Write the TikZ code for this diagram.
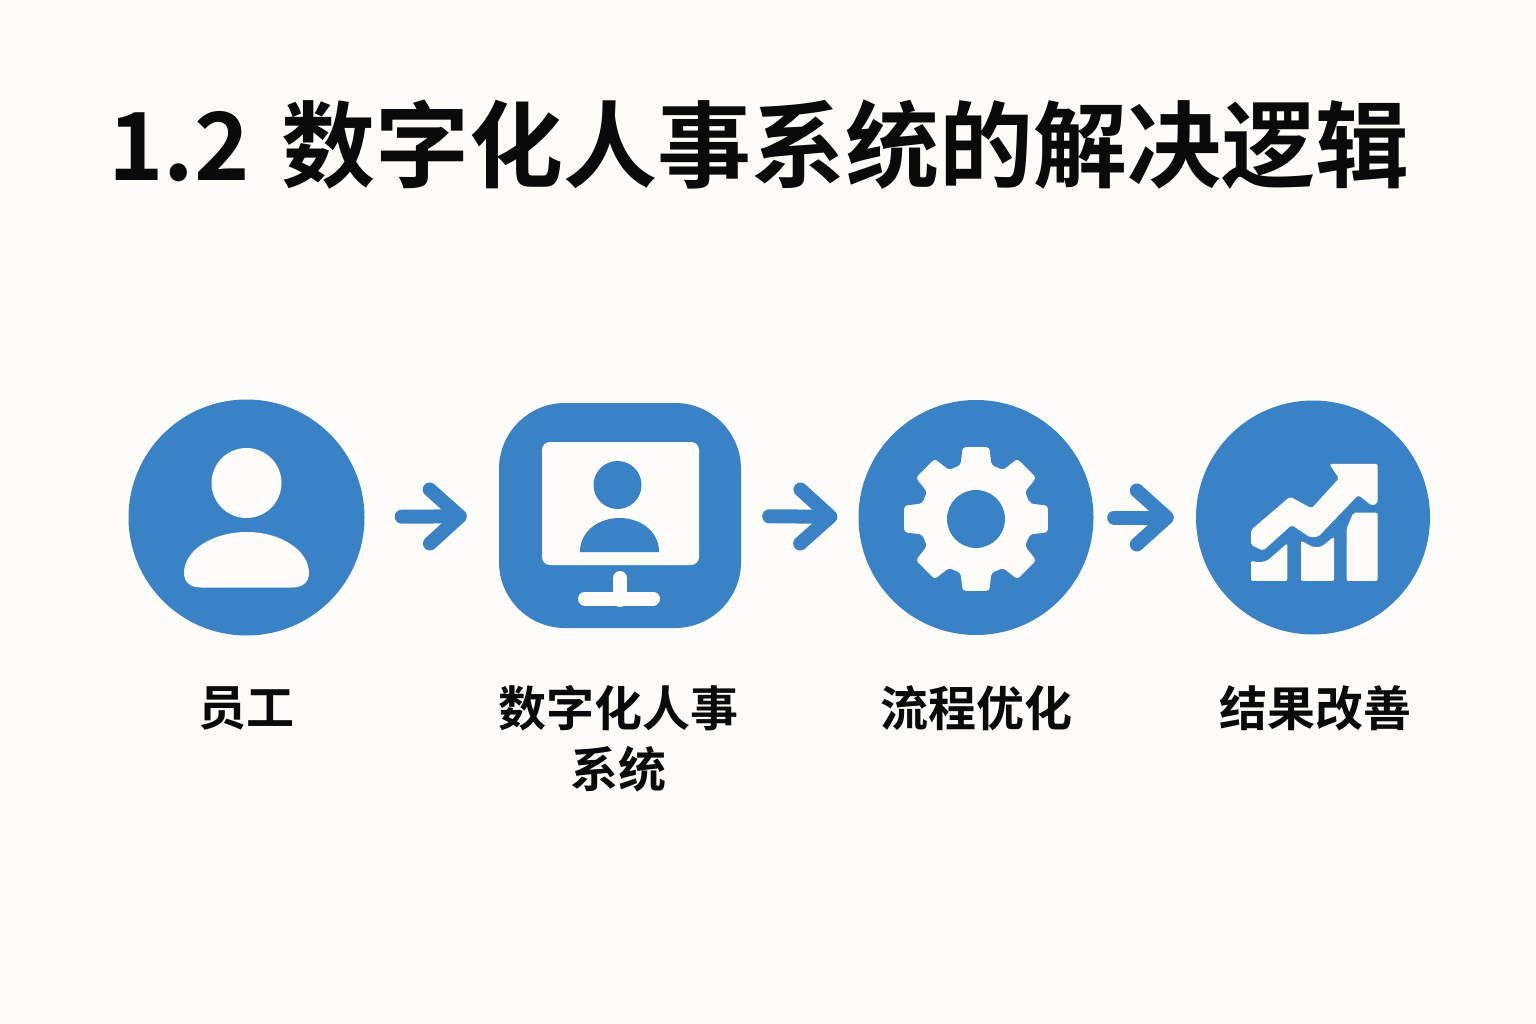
\documentclass[tikz,border=0pt]{standalone}
\usepackage{fontspec}
\setmainfont{Noto Sans CJK SC}[BoldFont={Noto Sans CJK SC Bold}]
\usetikzlibrary{arrows.meta}
\definecolor{iconblue}{HTML}{3A82C6}
\definecolor{paper}{HTML}{FDFCF9}
\definecolor{inkblack}{HTML}{0A0A0A}
\tikzset{
	disc/.style={circle,fill=iconblue,inner sep=0pt,minimum size=#1},
	steplabel/.style={text=inkblack,font=\fontsize{48}{61}\selectfont\bfseries,align=center,inner sep=0pt},
	flow/.style={draw=iconblue,line width=14pt,line cap=round,-{Straight Barb[round,length=30pt,width=54pt]}}
}
\begin{document}
\begin{tikzpicture}[x=1pt,y=-1pt]
	\fill [paper] (0,0) rectangle (1536,1024);
	\useasboundingbox (0,0) rectangle (1536,1024);
	\node [text=inkblack,font=\fontsize{94}{94}\selectfont\bfseries,inner sep=0pt] (title) at (759,145) {1.2\hspace{11pt} 数字化人事系统的解决逻辑};
	\node [disc=236pt] (employee) at (246.5,517.5) {};
	\node [fill=iconblue,rounded corners=66pt,minimum width=242pt,minimum height=225pt,inner sep=0pt] (hrsystem) at (620,515.5) {};
	\node [disc=235pt] (process) at (976,517.5) {};
	\node [disc=234pt] (result) at (1313,517.5) {};
	\draw [flow,shorten <=37pt,shorten >=32pt] (employee) -- (hrsystem);
	\draw [flow,shorten <=28pt,shorten >=21pt] (hrsystem) -- (process);
	\draw [flow,shorten <=20.5pt,shorten >=22pt] (process) -- (result);
	\node [steplabel] (employeelabel) at (246,708) {员工};
	\node [steplabel] (hrsystemlabel) at (618,739) {数字化人事\\系统};
	\node [steplabel] (processlabel) at (976,708) {流程优化};
	\node [steplabel] (resultlabel) at (1315,708) {结果改善};
	\fill [paper] (246.5,483) circle (35);
	\fill [paper] (201,587.5) -- (292,587.5) .. controls (303,587.5) and (309,582) .. (309,573) .. controls (309,550) and (280,532) .. (247,532) .. controls (213,532) and (184,550) .. (184,573) .. controls (184,582) and (190,587.5) .. (201,587.5) -- cycle;
	\fill [paper,rounded corners=8pt] (542,442) rectangle (699,565);
	\fill [iconblue] (617.5,485) circle (24);
	\fill [iconblue] (580,552) .. controls (580,530) and (600,518) .. (619.5,518) .. controls (639,518) and (659,530) .. (659,552) -- cycle;
	\draw [paper,line width=14pt,line cap=round] (620,578) -- (620,600);
	\draw [paper,line width=14pt,line cap=round] (585,598.5) -- (653,598.5);
	\begin{scope}[shift={(976,519)}]
		\fill [paper,rounded corners=3pt] (-16:56) \foreach \a in {0,45,...,315} {
			-- (\a-16:56) -- (\a-10.5:73) -- (\a+10.5:73) -- (\a+16:56)
		} -- cycle;
		\fill [iconblue] (0,0) circle (29);
	\end{scope}
	\begin{scope}[shift={(1190,440)},scale=.3333]
		\fill [paper,rounded corners=2pt] (418,72) -- (563,72) -- (563,190) -- (545,197) -- (505,165) -- (385,290) -- (360,292) -- (305,255) -- (220,332) -- (183,315) -- (183,270) -- (300,170) -- (365,205) -- (447,115) -- cycle;
		\fill [paper,rounded corners=2pt] (183,362) -- (205,368) -- (232,362) -- (292,310) -- (292,423) -- (183,423) -- cycle;
		\fill [paper,rounded corners=2pt] (333,302) -- (370,322) -- (395,320) -- (432,290) -- (432,423) -- (333,423) -- cycle;
		\fill [paper,rounded corners=2pt] (470,265) -- (490,218) -- (563,218) -- (563,423) -- (470,423) -- cycle;
	\end{scope}
\end{tikzpicture}
\end{document}
